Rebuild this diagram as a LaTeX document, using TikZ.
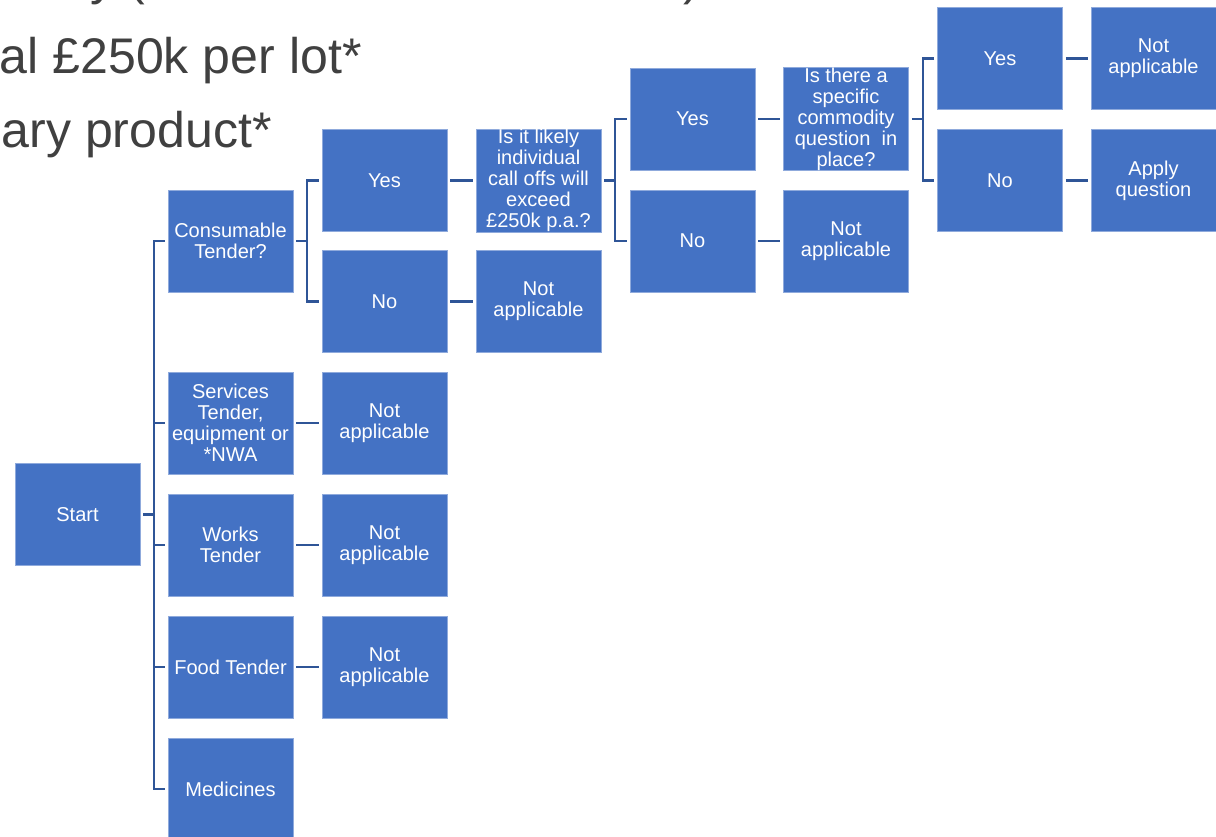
\documentclass[tikz,border=0pt]{standalone}
\usepackage{fontspec}
\setmainfont{Liberation Sans}
\usetikzlibrary{positioning}
\definecolor{boxblue}{HTML}{4472C4}
\definecolor{boxedge}{HTML}{8FAADC}
\definecolor{linkblue}{HTML}{2F5597}
\definecolor{slidegray}{HTML}{404040}

\begin{document}
\begin{tikzpicture}[x=0.02cm, y=-0.02cm]
		\useasboundingbox (0,0) rectangle (1216,836);
		\clip (0,0) rectangle (1216,836);
		% slide text behind the chart
		\begin{scope}[every node/.style={text=slidegray, inner sep=0pt, anchor=base east, font=\fontsize{28.5}{30}\selectfont}]
			\node (l0a) at (146,-6) {y (};
			\node (l0b) at (701,-6) {)};
			\node (l1) at (362,73) {al £250k per lot*};
			\node (l2) at (272,147) {ary product*};
		\end{scope}
		\begin{scope}[every node/.style={rectangle, fill=boxblue, draw=boxedge, line width=0.5pt, minimum width=2.5cm, minimum height=2.04cm, inner sep=0pt, align=center, text=white, font=\fontsize{11.4}{12}\selectfont}]
			\node (start) at (77.5,514.5) {Start};
			\node (consumable) at (230.5,241) {Consumable\\Tender?};
			\node (services) at (230.5,423) {Services\\Tender,\\equipment or\\*NWA};
			\node (works) at (230.5,545) {Works\\Tender};
			\node (food) at (230.5,667) {Food Tender};
			\node (medicines) at (230.5,789) {Medicines};
			\node (consyes) at (384.5,180.5) {Yes};
			\node (consno) at (384.5,301.5) {No};
			\node (servna) at (384.5,423) {Not\\applicable};
			\node (worksna) at (384.5,545) {Not\\applicable};
			\node (foodna) at (384.5,667) {Not\\applicable};
			\node (likely) at (538.5,180.5) {Is it likely\\individual\\call offs will\\exceed\\£250k p.a.?};
			\node (consna) at (538.5,301.5) {Not\\applicable};
			\node (likelyyes) at (692.5,119) {Yes};
			\node (likelyno) at (692.5,241) {No};
			\node (specific) at (846,119) {Is there a\\specific\\commodity\\question\ \ in\\place?};
			\node (likelyna) at (846,241) {Not\\applicable};
			\node (specyes) at (1000,58.5) {Yes};
			\node (specno) at (1000,180.5) {No};
			\node (specna) at (1153.5,58.5) {Not\\applicable};
			\node (applyq) at (1153.5,180.5) {Apply\\question};
		\end{scope}
		\coordinate (f1) at (154,0);
		\coordinate (f2) at (307,0);
		\coordinate (f3) at (615,0);
		\coordinate (f4) at (923,0);
		\begin{scope}[every path/.style={draw=linkblue, line width=1.3pt}]
			% forks
			\path[shorten <=0.06cm] (start.east) -- (start.east -| f1);
			\path ([xshift=-0.06cm]consumable.west) -- (consumable.west -| f1) -- (medicines.west -| f1) -- ([xshift=-0.06cm]medicines.west);
			\foreach \n in {services,works,food}
				\path[shorten >=0.06cm] (\n.west -| f1) -- (\n.west);
			\path[shorten <=0.06cm] (consumable.east) -- (consumable.east -| f2);
			\path ([xshift=-0.06cm]consyes.west) -- (consyes.west -| f2) -- (consno.west -| f2) -- ([xshift=-0.06cm]consno.west);
			\path[shorten <=0.06cm] (likely.east) -- (likely.east -| f3);
			\path ([xshift=-0.06cm]likelyyes.west) -- (likelyyes.west -| f3) -- (likelyno.west -| f3) -- ([xshift=-0.06cm]likelyno.west);
			\path[shorten <=0.06cm] (specific.east) -- (specific.east -| f4);
			\path ([xshift=-0.06cm]specyes.west) -- (specyes.west -| f4) -- (specno.west -| f4) -- ([xshift=-0.06cm]specno.west);
			% single links
			\path[shorten <=0.06cm, shorten >=0.06cm] (consyes) -- (likely);
			\path[shorten <=0.06cm, shorten >=0.06cm] (consno) -- (consna);
			\path[shorten <=0.06cm, shorten >=0.06cm] (services) -- (servna);
			\path[shorten <=0.06cm, shorten >=0.06cm] (works) -- (worksna);
			\path[shorten <=0.06cm, shorten >=0.06cm] (food) -- (foodna);
			\path[shorten <=0.06cm, shorten >=0.06cm] (likelyyes) -- (specific);
			\path[shorten <=0.06cm, shorten >=0.06cm] (likelyno) -- (likelyna);
			\path[shorten <=0.06cm, shorten >=0.06cm] (specyes) -- (specna);
			\path[shorten <=0.06cm, shorten >=0.06cm] (specno) -- (applyq);
		\end{scope}
	\end{tikzpicture}
\end{document}
